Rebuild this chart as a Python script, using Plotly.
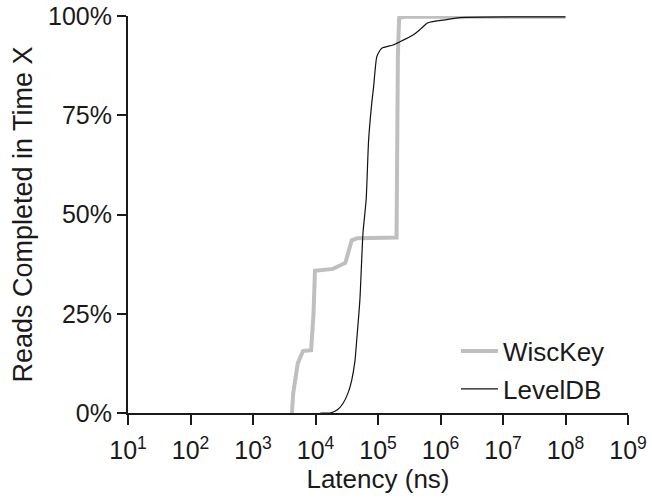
import plotly.graph_objects as go

# Read-latency CDFs (latency in ns, cumulative % of reads completed)
wisckey_latency = [4200, 4400, 5200, 5600, 6300, 8500, 9300, 9800, 13000, 19000,
                   30000, 33000, 38000, 46000, 80000, 198000, 208000, 218000, 260000, 1e8]
wisckey_pct = [0, 5, 12.5, 13.5, 15.6, 15.8, 25, 35.8, 36, 36.3,
               37.8, 40, 43.5, 44, 44, 44.2, 90, 99.5, 99.8, 99.8]

leveldb_latency = [12000, 17000, 22400, 27500, 33100, 38000, 42700, 45700, 51300, 57500,
                   64600, 70800, 79400, 85100, 95500, 107000, 115000, 174000, 224000,
                   363000, 447000, 525000, 631000, 1260000, 2040000, 1e8]
leveldb_pct = [0, 0, 0.8, 2.4, 5, 8.3, 13, 18.4, 28.5, 45.3,
               53.7, 68.8, 78, 82.2, 89.7, 91.3, 91.9, 92.7, 93.5,
               95.2, 96.3, 97.3, 98.3, 99.1, 99.6, 99.8]

x_tick_vals = [10 ** k for k in range(1, 10)]
x_tick_text = [f"10<sup>{k}</sup>" for k in range(1, 10)]
y_tick_vals = [0, 25, 50, 75, 100]
y_tick_text = ["0%", "25%", "50%", "75%", "100%"]

FONT = "Liberation Sans, Arial, Helvetica, sans-serif"
INK = "#1a1a1a"

fig = go.Figure()
fig.add_trace(go.Scatter(
    x=wisckey_latency, y=wisckey_pct, mode="lines", name="WiscKey",
    legendgroup="a",
    line=dict(color="#bfbfbf", width=4),
))
fig.add_trace(go.Scatter(
    x=leveldb_latency, y=leveldb_pct, mode="lines", name="LevelDB",
    legendgroup="b",
    line=dict(color="#111111", width=1.2, shape="spline", smoothing=0.6),
))

fig.update_layout(
    width=652, height=498,
    margin=dict(l=128, r=24, t=16, b=85, autoexpand=False),
    paper_bgcolor="white", plot_bgcolor="white",
    font=dict(family=FONT, size=25, color=INK),
    showlegend=True,
    legend=dict(
        x=0.656, y=0.215, xanchor="left", yanchor="top",
        bgcolor="rgba(0,0,0,0)", font=dict(size=26, color=INK),
        traceorder="grouped", tracegroupgap=1, itemwidth=37,
    ),
    xaxis=dict(
        type="log", range=[1, 9], automargin=False,
        tickvals=x_tick_vals, ticktext=x_tick_text,
        showgrid=False, zeroline=False,
        showline=True, linecolor=INK, linewidth=2,
        ticks="outside", ticklen=10, tickwidth=2, tickcolor=INK,
        ticklabelstandoff=4,
        tickfont=dict(size=25, color=INK),
        title=dict(text="Latency (ns)", font=dict(size=26, color=INK), standoff=4),
    ),
    yaxis=dict(
        range=[0, 100], automargin=False,
        tickvals=y_tick_vals, ticktext=y_tick_text,
        showgrid=False, zeroline=False,
        showline=True, linecolor=INK, linewidth=2,
        ticks="outside", ticklen=9, tickwidth=2, tickcolor=INK,
        tickfont=dict(size=25, color=INK),
        title=dict(text="Reads Completed in Time X", font=dict(size=27, color=INK), standoff=8),
    ),
)

fig.write_html("out.html")
